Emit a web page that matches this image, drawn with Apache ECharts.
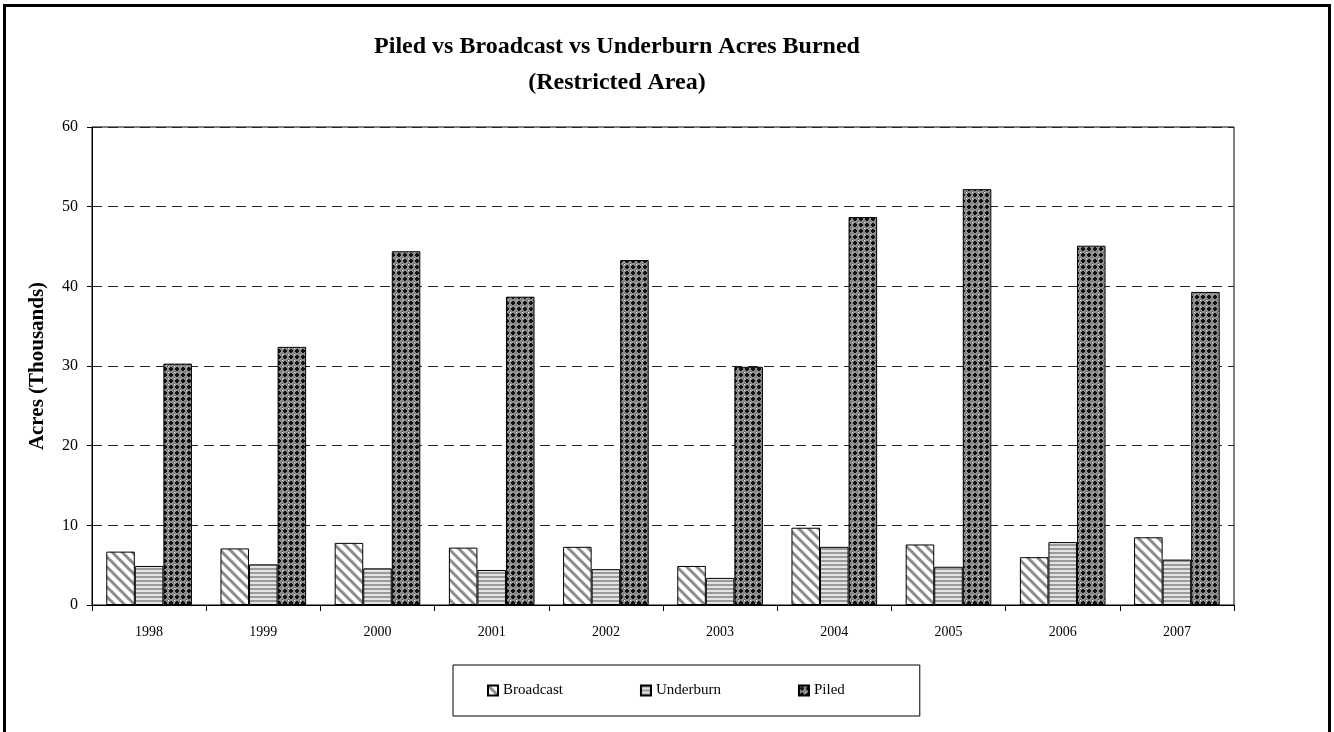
<!DOCTYPE html>
<html>
<head>
<meta charset="utf-8">
<script src="https://cdn.jsdelivr.net/npm/echarts@6/dist/echarts.min.js"></script>
<style>
  html, body { margin: 0; padding: 0; background: #fff; }
  #chart { width: 1334px; height: 732px; }
</style>
</head>
<body>
<div id="chart"></div>
<script>
// chart data, thousands of acres
const years = ['1998', '1999', '2000', '2001', '2002', '2003', '2004', '2005', '2006', '2007']
const broadcast = [6.7, 7.1, 7.8, 7.2, 7.3, 4.9, 9.7, 7.6, 6.0, 8.5]
const underburn = [4.9, 5.1, 4.6, 4.4, 4.5, 3.4, 7.3, 4.8, 7.9, 5.7]
const piled = [30.3, 32.4, 44.4, 38.7, 43.3, 29.9, 48.7, 52.2, 45.1, 39.3]
const yTicks = [0, 10, 20, 30, 40, 50, 60]

const serif = '"Liberation Serif", "DejaVu Serif", serif'

function makeTile (w, h, draw) {
  const c = document.createElement('canvas')
  c.width = w
  c.height = h
  draw(c.getContext('2d'), w, h)
  return c
}

// diagonal "\" stripes
const diagTile = makeTile(10, 10, (ctx, w, h) => {
  ctx.fillStyle = '#fff'
  ctx.fillRect(0, 0, w, h)
  ctx.strokeStyle = '#8c8c8c'
  ctx.lineWidth = 3
  for (let k = -1; k <= 1; k++) {
    ctx.beginPath()
    ctx.moveTo(k * w - 2, -2)
    ctx.lineTo(k * w + w + 2, h + 2)
    ctx.stroke()
  }
})

// horizontal stripes
const horizTile = makeTile(4, 4, (ctx, w, h) => {
  ctx.fillStyle = '#e4e4e4'
  ctx.fillRect(0, 0, w, h)
  ctx.fillStyle = '#9a9a9a'
  ctx.fillRect(0, 0, w, 2)
})

// crosshatch, grey with black crosses and light dots
const crossTile = makeTile(6, 6, (ctx, w, h) => {
  ctx.fillStyle = '#8e8e8e'
  ctx.fillRect(0, 0, w, h)
  ctx.fillStyle = '#111'
  ctx.fillRect(2, 1, 2, 4)
  ctx.fillRect(1, 2, 4, 2)
  ctx.fillStyle = '#f0f0f0'
  ctx.fillRect(0, 0, 1, 1)
  ctx.fillStyle = '#5a5a5a'
  ctx.fillRect(5, 0, 1, 1)
  ctx.fillRect(0, 5, 1, 1)
})

function barSeries (name, data, tile) {
  return {
    name: name,
    type: 'bar',
    data: data,
    barGap: '0%',
    barCategoryGap: '25%',
    itemStyle: {
      color: { image: tile, repeat: 'repeat' },
      borderColor: '#000',
      borderWidth: 1
    },
    emphasis: { disabled: true }
  }
}

const chart = echarts.init(document.getElementById('chart'))
chart.setOption({
  backgroundColor: '#fff',
  animation: false,
  title: {
    text: 'Piled vs Broadcast vs Underburn Acres Burned\n(Restricted Area)',
    left: 612,
    top: 24,
    textAlign: 'center',
    textStyle: {
      fontFamily: serif,
      fontWeight: 'bold',
      fontSize: 24,
      lineHeight: 36,
      color: '#000'
    }
  },
  graphic: [
    {
      type: 'rect',
      shape: { x: 4.5, y: 5.5, width: 1325, height: 740 },
      style: { fill: 'none', stroke: '#000', lineWidth: 3 },
      silent: true
    }
  ],
  legend: {
    left: 453,
    top: 665,
    width: 465,
    padding: [18, 75, 18, 34],
    itemGap: 77,
    itemWidth: 10,
    itemHeight: 10,
    borderColor: '#000',
    borderWidth: 1,
    icon: 'rect',
    textStyle: { fontFamily: serif, fontSize: 15, color: '#000' },
    data: ['Broadcast', 'Underburn', 'Piled']
  },
  grid: {
    left: 92,
    right: 100,
    top: 127,
    bottom: 127,
    show: true,
    borderColor: '#000',
    borderWidth: 1
  },
  xAxis: {
    type: 'category',
    data: years,
    boundaryGap: true,
    axisLine: { lineStyle: { color: '#000', width: 1 } },
    axisTick: { show: true, length: 6, inside: false, lineStyle: { color: '#000' } },
    axisLabel: { fontFamily: serif, fontSize: 14, color: '#000', margin: 20 }
  },
  yAxis: {
    type: 'value',
    min: yTicks[0],
    max: yTicks[yTicks.length - 1],
    interval: 10,
    name: 'Acres (Thousands)',
    nameLocation: 'middle',
    nameGap: 44,
    nameTextStyle: { fontFamily: serif, fontWeight: 'bold', fontSize: 21, color: '#000' },
    axisLine: { show: true, lineStyle: { color: '#000', width: 1 } },
    axisTick: { show: true, length: 5, lineStyle: { color: '#000' } },
    axisLabel: { fontFamily: serif, fontSize: 16, color: '#000', margin: 14 },
    splitLine: { show: true, lineStyle: { color: '#222', type: [10, 6], width: 1 } }
  },
  series: [
    barSeries('Broadcast', broadcast, diagTile),
    barSeries('Underburn', underburn, horizTile),
    barSeries('Piled', piled, crossTile)
  ]
})
</script>
</body>
</html>
